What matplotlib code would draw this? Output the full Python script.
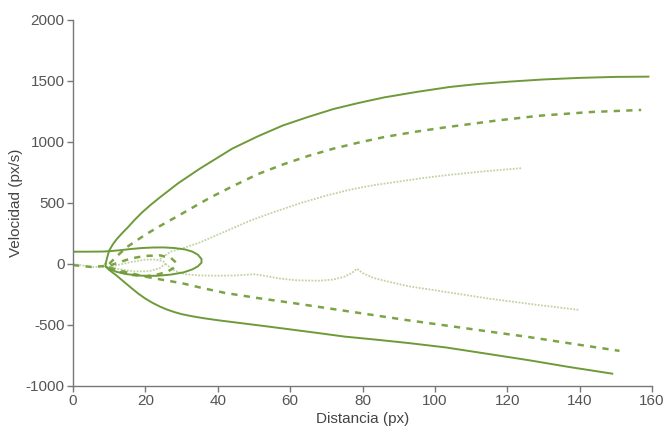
import matplotlib
matplotlib.use("Agg")
import matplotlib.pyplot as plt

plt.rcParams['font.family'] = ['Liberation Sans Narrow', 'DejaVu Sans Condensed', 'Liberation Sans', 'DejaVu Sans']
plt.rcParams['axes.unicode_minus'] = False

# Solid curve (loop + two branches)
solid_loop_x = [0, 4, 8, 10, 13, 16, 19, 22, 25, 28, 31, 33, 34.5, 35.5, 35.5, 34.5, 33, 30.5, 27, 23, 19, 15, 12, 10, 9, 9]
solid_loop_y = [100, 100, 101, 104, 112, 122, 130, 134, 135, 130, 118, 100, 75, 40, 10, -20, -45, -70, -88, -98, -97, -85, -65, -42, -20, 0]
solid_up_x = [9, 9.5, 10, 11, 12, 13.5, 15, 17, 19, 21.5, 24, 29, 35, 44, 51, 58, 65, 72, 79, 86, 95, 104, 112, 121, 130, 140, 150, 159]
solid_up_y = [0, 60, 110, 160, 200, 250, 295, 360, 420, 485, 545, 660, 780, 945, 1045, 1135, 1205, 1270, 1320, 1365, 1410, 1450, 1475, 1495, 1512, 1525, 1533, 1535]
solid_lo_x = [9, 10, 12, 14, 16, 18, 20, 22, 24, 26, 28, 30, 33, 36, 40, 47, 54, 61, 68, 75, 84, 93, 103, 114, 126, 137, 149]
solid_lo_y = [-20, -50, -95, -145, -195, -243, -285, -320, -350, -375, -395, -412, -430, -445, -462, -488, -514, -541, -568, -596, -622, -650, -685, -735, -790, -845, -900]

# Dashed curve
dash_loop_x = [0, 5, 10, 13, 16, 20, 24, 27, 28.5, 28, 26, 23, 20, 16, 12, 10]
dash_loop_y = [-10, -25, -15, 15, 45, 65, 70, 50, 10, -30, -65, -90, -102, -90, -60, -30]
dash_up_x = [10, 12, 15, 20, 24, 30, 35, 38, 44, 51, 58, 65, 72, 79, 86, 95, 103, 117, 129, 143, 157]
dash_up_y = [0, 60, 140, 240, 310, 410, 495, 545, 635, 735, 815, 885, 945, 995, 1040, 1085, 1120, 1175, 1215, 1245, 1262]
dash_lo_x = [10, 15, 20, 25, 30, 36, 42, 51, 61, 70, 79, 92, 103, 115, 126, 138, 151]
dash_lo_y = [-30, -70, -105, -132, -158, -200, -238, -280, -322, -362, -402, -460, -505, -555, -600, -655, -713]

# Dotted curve
dot_loop_x = [0, 5, 10, 13, 16, 20, 23, 25, 25.5, 24, 21, 17, 13, 10]
dot_loop_y = [0, -25, -25, -5, 15, 35, 35, 20, 0, -35, -60, -62, -45, -25]
dot_up_x = [24, 27, 31.5, 35, 42, 49, 56, 63, 70, 76, 83, 90, 97, 104, 114, 124]
dot_up_y = [40, 100, 140, 175, 265, 355, 430, 500, 560, 605, 645, 675, 705, 730, 760, 785]
dot_lo_x = [25.5, 28, 31, 35, 40, 45, 50, 53, 57, 62, 68, 72, 75, 77, 78.5, 80, 83, 87, 93, 103, 115, 128, 140]
dot_lo_y = [0, -55, -85, -95, -97, -95, -85, -98, -120, -135, -138, -128, -105, -75, -40, -75, -115, -145, -185, -230, -285, -335, -378]

dark = '#6e9a3a'
mid = '#7ca447'
light = '#c2d3a4'

fig = plt.figure(figsize=(6.64, 4.43), dpi=100)
ax = fig.add_axes([0.110, 0.129, 0.872, 0.826])

for xs, ys in [(dot_loop_x, dot_loop_y), (dot_up_x, dot_up_y), (dot_lo_x, dot_lo_y)]:
    ax.plot(xs, ys, color=light, lw=1.3, linestyle=(0, (1, 0.8)), solid_joinstyle='round')
for xs, ys in [(dash_loop_x, dash_loop_y), (dash_up_x, dash_up_y), (dash_lo_x, dash_lo_y)]:
    ax.plot(xs, ys, color=mid, lw=1.8, linestyle=(0, (2.5, 2.5)))
for xs, ys in [(solid_loop_x, solid_loop_y), (solid_up_x, solid_up_y), (solid_lo_x, solid_lo_y)]:
    ax.plot(xs, ys, color=dark, lw=1.4, solid_joinstyle='round')

ax.set_xlim(0, 160)
ax.set_ylim(-1000, 2000)
ax.set_xticks(range(0, 161, 20))
ax.set_yticks(range(-1000, 2001, 500))

for s in ['top', 'right']:
    ax.spines[s].set_visible(False)
for s in ['left', 'bottom']:
    ax.spines[s].set_color('#777777')
    ax.spines[s].set_linewidth(1.0)

ax.tick_params(axis='both', colors='#777777', labelcolor='#555555', labelsize=11, length=4, width=1, pad=2)
ax.set_xlabel('Distancia (px)', fontsize=11, color='#444444', labelpad=3)
ax.set_ylabel('Velocidad (px/s)', fontsize=11, color='#444444', labelpad=2)

fig.savefig('out.png', dpi=100)
